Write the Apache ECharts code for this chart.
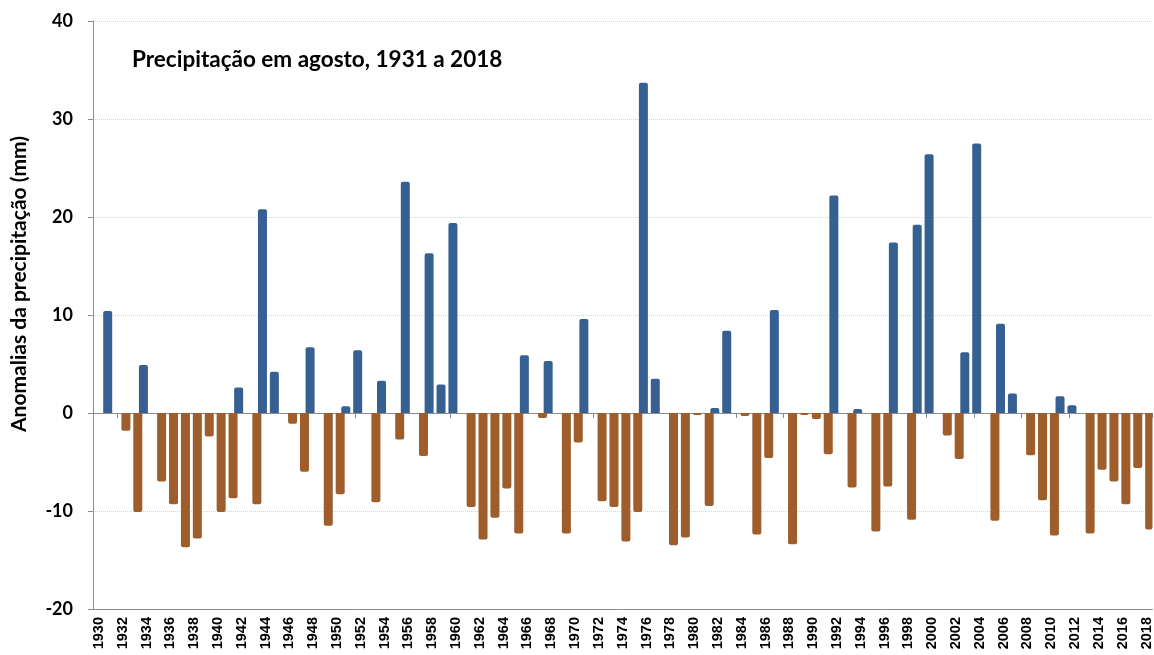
<!DOCTYPE html>
<html lang="pt">
<head>
    <meta charset="UTF-8">
    <title>Precipitação em agosto</title>
    <script src="https://cdn.jsdelivr.net/npm/echarts@6/dist/echarts.min.js"></script>
    <style>
        html, body { margin: 0; padding: 0; background: #fff; }
        #main { width: 1154px; height: 655px; }
    </style>
</head>
<body>
    <div id="main"></div>
    <script type="text/javascript">
        // anos 1930..2018 (1930 sem valor)
        var firstYear = 1930;
        var lastYear = 2018;
        // anomalias 1931..2018 (mm)
        var anomalies = [
            10.4, -1.8, -10.1, 4.9, -7.0, -9.3, -13.7, -12.8, -2.4, -10.1,
            -8.7, 2.6, -9.3, 20.8, 4.2, -1.1, -6.0, 6.7, -11.5, -8.3,
            0.7, 6.4, -9.1, 3.3, -2.7, 23.6, -4.4, 16.3, 2.9, 19.4,
            -9.6, -12.9, -10.7, -7.7, -12.3, 5.9, -0.5, 5.3, -12.3, -3.0,
            9.6, -9.0, -9.6, -13.1, -10.1, 33.7, 3.5, -13.5, -12.7, -0.2,
            -9.5, 0.5, 8.4, -0.3, -12.4, -4.6, 10.5, -13.4, -0.2, -0.6,
            -4.2, 22.2, -7.6, 0.4, -12.1, -7.5, 17.4, -10.9, 19.2, 26.4,
            -2.3, -4.7, 6.2, 27.5, -11.0, 9.1, 2.0, -4.3, -8.9, -12.5,
            1.7, 0.8, -12.3, -5.8, -7.0, -9.3, -5.6, -11.9
        ];
        var yTicks = { min: -20, max: 40, step: 10 };

        var years = [];
        for (var y = firstYear; y <= lastYear; y++) years.push(String(y));

        // 1930 não tem dado
        var values = [null].concat(anomalies);
        var positive = values.map(function (v) { return v !== null && v > 0 ? v : null; });
        var negative = values.map(function (v) { return v !== null && v < 0 ? v : null; });

        var myChart = echarts.init(document.getElementById('main'));

        var option = {
            animation: false,
            title: {
                text: 'Precipitação em agosto, 1931 a 2018',
                left: 127,
                top: 43,
                textStyle: {
                    fontFamily: 'Lato',
                    fontWeight: 'bold',
                    fontSize: 22.5,
                    color: '#000'
                }
            },
            grid: {
                left: 93,
                right: 0,
                top: 21,
                bottom: 46
            },
            xAxis: [
                {
                    // eixo de baixo, só com os rótulos
                    type: 'category',
                    data: years,
                    axisLine: { onZero: false, lineStyle: { color: '#8c8c8c', width: 1 } },
                    axisTick: { show: false },
                    axisLabel: {
                        interval: 1,
                        rotate: 90,
                        margin: 8,
                        fontFamily: 'Liberation Sans',
                        fontWeight: 'bold',
                        fontSize: 14.5,
                        color: '#000'
                    }
                },
                {
                    // linha do zero com marcas
                    type: 'category',
                    data: years,
                    position: 'bottom',
                    axisLine: { onZero: true, lineStyle: { color: '#8c8c8c', width: 1 } },
                    axisTick: {
                        show: true,
                        length: 5,
                        lineStyle: { color: '#888' },
                        interval: function (index) { return index % 4 === 2; }
                    },
                    axisLabel: { show: false },
                    splitLine: { show: false }
                }
            ],
            yAxis: {
                type: 'value',
                min: yTicks.min,
                max: yTicks.max,
                interval: yTicks.step,
                name: 'Anomalias da precipitação (mm)',
                nameLocation: 'middle',
                nameGap: 63,
                nameTextStyle: {
                    fontFamily: 'Lato',
                    fontWeight: 'bold',
                    fontSize: 21,
                    color: '#000',
                    padding: [0, 0, 0, 62]
                },
                axisLine: { show: true, lineStyle: { color: '#8c8c8c' } },
                axisTick: { show: true, length: 5, lineStyle: { color: '#8c8c8c' } },
                axisLabel: {
                    margin: 20,
                    fontFamily: 'Lato',
                    fontWeight: 'bold',
                    fontSize: 18,
                    color: '#000'
                },
                splitLine: {
                    show: true,
                    lineStyle: { color: '#cdd5e2', type: 'dotted', width: 1 }
                }
            },
            series: [
                {
                    name: 'positivo',
                    type: 'bar',
                    data: positive,
                    barWidth: 9,
                    barGap: '-30%',
                    itemStyle: { color: '#376092', borderRadius: [2, 2, 0, 0] }
                },
                {
                    name: 'negativo',
                    type: 'bar',
                    data: negative,
                    barWidth: 9,
                    itemStyle: { color: '#9e5d2a', borderRadius: [0, 0, 2, 2] }
                }
            ]
        };
        myChart.setOption(option, true);
    </script>
</body>
</html>
